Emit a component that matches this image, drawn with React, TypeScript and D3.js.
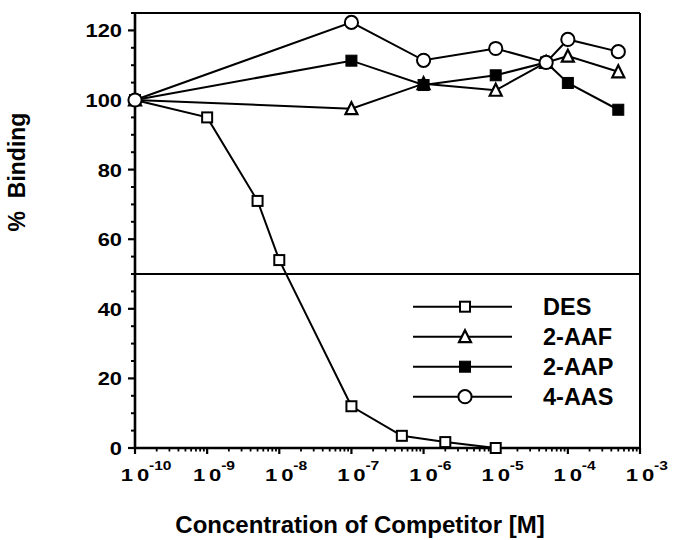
import React from "react";
import * as d3 from "d3";

// ---- Data ----
const seriesNames = ["DES", "2-AAF", "2-AAP", "4-AAS"];

const desConc = [1e-10, 1e-9, 5e-9, 1e-8, 1e-7, 5e-7, 2e-6, 1e-5];
const desBinding = [100, 95, 71, 54, 12, 3.5, 1.7, 0];

const aafConc = [1e-10, 1e-7, 1e-6, 1e-5, 5e-5, 1e-4, 5e-4];
const aafBinding = [100, 97.5, 104.7, 102.8, 110.8, 112.6, 108.1];

const aapConc = [1e-10, 1e-7, 1e-6, 1e-5, 5e-5, 1e-4, 5e-4];
const aapBinding = [100, 111.3, 104.3, 107.1, 110.8, 104.9, 97.2];

const aasConc = [1e-10, 1e-7, 1e-6, 1e-5, 5e-5, 1e-4, 5e-4];
const aasBinding = [100, 122.3, 111.4, 114.8, 110.8, 117.4, 113.9];

const xTickExponents = [-10, -9, -8, -7, -6, -5, -4, -3];
const yTickValues = [0, 20, 40, 60, 80, 100, 120];
const referenceLine = 50;

const xTitle = "Concentration of Competitor [M]";
const yTitle = "%  Binding";

const FONT = "'Liberation Sans', Arial, Helvetica, sans-serif";

type Pt = { x: number; y: number };

function Marker({ kind, cx, cy }: { kind: string; cx: number; cy: number }) {
  if (kind === "DES") {
    const s = 10;
    return <rect x={cx - s / 2} y={cy - s / 2} width={s} height={s} fill="#fff" stroke="#000" strokeWidth={2} />;
  }
  if (kind === "2-AAP") {
    const s = 11;
    return <rect x={cx - s / 2} y={cy - s / 2} width={s} height={s} fill="#000" stroke="#000" strokeWidth={1} />;
  }
  if (kind === "2-AAF") {
    const h = 11;
    const w = 12;
    const p = `M${cx},${cy - h / 2 - 1} L${cx + w / 2},${cy + h / 2} L${cx - w / 2},${cy + h / 2} Z`;
    return <path d={p} fill="#fff" stroke="#000" strokeWidth={2.2} strokeLinejoin="miter" />;
  }
  return <circle cx={cx} cy={cy} r={6.6} fill="#fff" stroke="#000" strokeWidth={2} />;
}

export default function App() {
  const W = 674;
  const H = 540;
  const left = 135;
  const right = 640;
  const top = 13;
  const bottom = 448;

  const x = d3.scaleLog().domain([1e-10, 1e-3]).range([left, right]);
  const y = d3.scaleLinear().domain([0, 125]).range([bottom, top]);

  const series = [
    { name: seriesNames[0], xs: desConc, ys: desBinding },
    { name: seriesNames[1], xs: aafConc, ys: aafBinding },
    { name: seriesNames[2], xs: aapConc, ys: aapBinding },
    { name: seriesNames[3], xs: aasConc, ys: aasBinding },
  ];

  const line = d3
    .line<Pt>()
    .x((d) => d.x)
    .y((d) => d.y);

  // minor log ticks
  const minorX: number[] = [];
  for (let e = -10; e < -3; e++) {
    for (let m = 2; m <= 9; m++) minorX.push(m * Math.pow(10, e));
  }
  const minorY: number[] = [];
  for (let v = 5; v <= 125; v += 5) if (v % 20 !== 0) minorY.push(v);

  const legendX1 = 413;
  const legendX2 = 512;
  const legendMX = 465;
  const legendY0 = 306.7;
  const legendDY = 30;

  return (
    <svg
      width={W}
      height={H}
      style={{ position: "absolute", left: 0, top: 0, background: "#fff" }}
      fontFamily={FONT}
      fontWeight="bold"
    >
      <rect x={0} y={0} width={W} height={H} fill="#fff" />

      {/* frame top & right */}
      <line x1={left} y1={top} x2={right} y2={top} stroke="#000" strokeWidth={2} />
      <line x1={right} y1={top} x2={right} y2={bottom} stroke="#000" strokeWidth={2} />

      {/* 50% line */}
      <line x1={left} x2={right} y1={y(referenceLine)} y2={y(referenceLine)} stroke="#000" strokeWidth={2} />

      {/* y axis */}
      <line x1={left} y1={top} x2={left} y2={bottom} stroke="#000" strokeWidth={2.6} />
      {yTickValues.map((v) => (
        <g key={"yt" + v}>
          <line x1={left - 7} x2={left} y1={y(v)} y2={y(v)} stroke="#000" strokeWidth={2.2} />
          <g transform={`translate(${left - 13},${y(v) + 7}) scale(1.15,1)`}>
            <text x={0} y={0} textAnchor="end" fontSize={19}>
              {v}
            </text>
          </g>
        </g>
      ))}
      {minorY.map((v) => (
        <line key={"ym" + v} x1={left - 4} x2={left} y1={y(v)} y2={y(v)} stroke="#000" strokeWidth={2} />
      ))}

      {/* x axis */}
      <line x1={left} y1={bottom} x2={right} y2={bottom} stroke="#000" strokeWidth={2.6} />
      {xTickExponents.map((e) => {
        const tx = x(Math.pow(10, e));
        return (
          <g key={"xt" + e}>
            <line x1={tx} x2={tx} y1={bottom} y2={bottom + 6} stroke="#000" strokeWidth={2.2} />
            <g transform={`translate(${tx},481) scale(1.3,1)`}>
              <text x={0} y={0} textAnchor="middle" fontSize={17}>
                <tspan>1</tspan>
                <tspan dx={3}>0</tspan>
              </text>
            </g>
            <g transform={`translate(${tx + 14},470) scale(1.3,1)`}>
              <text x={0} y={0} textAnchor="start" fontSize={12}>
                {"-" + Math.abs(e)}
              </text>
            </g>
          </g>
        );
      })}
      {minorX.map((v, i) => (
        <line key={"xm" + i} x1={x(v)} x2={x(v)} y1={bottom} y2={bottom + 3.5} stroke="#000" strokeWidth={1.8} />
      ))}

      {/* series lines */}
      {series.map((s) => {
        const pts: Pt[] = s.xs.map((c, i) => ({ x: x(c), y: y(s.ys[i]) }));
        return <path key={"l" + s.name} d={line(pts) || ""} fill="none" stroke="#000" strokeWidth={2} />;
      })}
      {/* markers */}
      {series.map((s) => (
        <g key={"m" + s.name}>
          {s.xs.map((c, i) => (
            <Marker key={i} kind={s.name} cx={x(c)} cy={y(s.ys[i])} />
          ))}
        </g>
      ))}

      {/* legend */}
      {seriesNames.map((n, i) => {
        const ly = legendY0 + i * legendDY;
        return (
          <g key={"lg" + n}>
            <line x1={legendX1} x2={legendX2} y1={ly} y2={ly} stroke="#000" strokeWidth={2} />
            <Marker kind={n} cx={legendMX} cy={ly} />
            <text x={543} y={ly + 8.5} fontSize={23.5}>
              {n}
            </text>
          </g>
        );
      })}

      {/* axis titles */}
      <text x={360} y={533} textAnchor="middle" fontSize={24}>
        {xTitle}
      </text>
      <text
        transform={`translate(25,172) rotate(-90)`}
        textAnchor="middle"
        fontSize={23}
        style={{ whiteSpace: "pre" }}
      >
        {yTitle}
      </text>
    </svg>
  );
}
